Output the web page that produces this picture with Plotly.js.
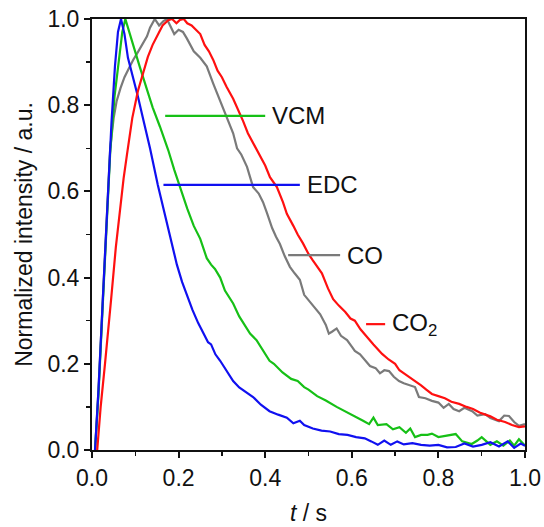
<!DOCTYPE html>
<html><head><meta charset="utf-8">
<script src="https://cdn.plot.ly/plotly-3.0.1.min.js"></script>
<style>html,body{margin:0;padding:0;background:#fff;}#chart{width:544px;height:527px;}</style>
</head><body><div id="chart"></div>
<script>
// EDC (blue)
const edcT = [0.007,0.015,0.025,0.035,0.045,0.053,0.060,0.067,0.075,0.083,0.095,0.106,0.12,0.134,0.152,0.165,0.175,0.186,0.196,0.208,0.219,0.232,0.245,0.257,0.268,0.275,0.285,0.296,0.31,0.326,0.34,0.355,0.372,0.39,0.41,0.43,0.45,0.465,0.48,0.49,0.51,0.53,0.55,0.57,0.59,0.61,0.63,0.645,0.66,0.675,0.69,0.705,0.72,0.74,0.76,0.78,0.80,0.82,0.84,0.86,0.88,0.90,0.92,0.94,0.96,0.975,0.99,1.0];
const edcV = [0,0.14,0.35,0.57,0.76,0.89,0.97,1.0,0.965,0.91,0.865,0.82,0.76,0.70,0.615,0.56,0.515,0.47,0.43,0.39,0.36,0.325,0.295,0.27,0.25,0.245,0.222,0.207,0.185,0.16,0.145,0.135,0.123,0.105,0.09,0.082,0.075,0.062,0.068,0.058,0.05,0.045,0.043,0.037,0.035,0.03,0.027,0.02,0.012,0.022,0.012,0.02,0.013,0.016,0.012,0.01,0.012,0.006,0.007,0.015,0.008,0.012,0.018,0.008,0.02,0.005,0.015,0.01];
// VCM (green)
const vcmT = [0.007,0.015,0.025,0.035,0.042,0.052,0.062,0.070,0.077,0.085,0.095,0.11,0.125,0.14,0.157,0.176,0.19,0.203,0.22,0.235,0.25,0.265,0.275,0.284,0.296,0.307,0.32,0.326,0.34,0.352,0.365,0.38,0.395,0.41,0.42,0.44,0.46,0.475,0.49,0.50,0.52,0.54,0.565,0.585,0.605,0.626,0.64,0.65,0.66,0.68,0.695,0.71,0.725,0.735,0.746,0.76,0.775,0.785,0.80,0.82,0.84,0.855,0.877,0.89,0.90,0.92,0.935,0.95,0.965,0.975,0.986,1.0];
const vcmV = [0,0.13,0.34,0.55,0.69,0.82,0.90,0.97,1.0,0.975,0.94,0.89,0.84,0.795,0.75,0.696,0.65,0.61,0.56,0.52,0.49,0.445,0.43,0.42,0.40,0.37,0.35,0.34,0.31,0.29,0.27,0.255,0.23,0.207,0.20,0.18,0.165,0.16,0.146,0.14,0.125,0.115,0.10,0.09,0.08,0.068,0.06,0.075,0.058,0.06,0.048,0.053,0.04,0.05,0.03,0.035,0.035,0.038,0.03,0.033,0.037,0.02,0.014,0.022,0.03,0.012,0.02,0.01,0.022,0.01,0.025,0.01];
// CO (gray)
const coT = [0.007,0.015,0.025,0.035,0.042,0.05,0.057,0.066,0.075,0.085,0.095,0.107,0.118,0.127,0.134,0.145,0.155,0.165,0.173,0.182,0.19,0.2,0.21,0.219,0.235,0.25,0.265,0.28,0.296,0.31,0.326,0.335,0.345,0.358,0.372,0.385,0.395,0.404,0.416,0.425,0.434,0.445,0.457,0.468,0.48,0.49,0.503,0.515,0.527,0.54,0.547,0.555,0.565,0.575,0.589,0.60,0.607,0.619,0.63,0.642,0.655,0.665,0.675,0.686,0.697,0.709,0.72,0.735,0.746,0.755,0.77,0.785,0.80,0.812,0.824,0.835,0.848,0.86,0.878,0.89,0.908,0.92,0.93,0.94,0.952,0.963,0.975,0.986,1.0];
const coV = [0,0.14,0.35,0.57,0.70,0.77,0.81,0.84,0.865,0.885,0.905,0.925,0.944,0.96,0.98,1.0,0.985,0.995,1.0,0.98,0.965,0.975,0.97,0.955,0.925,0.91,0.89,0.85,0.81,0.775,0.735,0.70,0.685,0.657,0.61,0.595,0.575,0.55,0.515,0.495,0.478,0.45,0.425,0.41,0.395,0.36,0.345,0.33,0.315,0.29,0.27,0.275,0.282,0.265,0.255,0.24,0.23,0.222,0.21,0.195,0.19,0.178,0.185,0.183,0.17,0.16,0.155,0.15,0.146,0.123,0.12,0.114,0.11,0.098,0.107,0.095,0.09,0.098,0.09,0.08,0.083,0.074,0.07,0.067,0.08,0.079,0.065,0.056,0.06];
// CO2 (red)
const co2T = [0.012,0.02,0.03,0.038,0.044,0.055,0.065,0.073,0.081,0.093,0.106,0.118,0.129,0.14,0.152,0.163,0.176,0.185,0.195,0.203,0.212,0.22,0.23,0.24,0.25,0.26,0.27,0.28,0.29,0.3,0.311,0.326,0.335,0.342,0.349,0.36,0.372,0.388,0.40,0.411,0.427,0.441,0.45,0.465,0.475,0.487,0.50,0.51,0.52,0.531,0.545,0.557,0.57,0.585,0.597,0.607,0.62,0.635,0.65,0.67,0.685,0.70,0.71,0.723,0.74,0.76,0.772,0.785,0.80,0.815,0.83,0.848,0.865,0.88,0.895,0.908,0.92,0.935,0.954,0.97,0.986,1.0];
const co2V = [0,0.1,0.2,0.28,0.348,0.47,0.56,0.63,0.687,0.77,0.833,0.875,0.912,0.94,0.965,0.985,0.997,1.0,0.99,0.998,1.0,0.99,0.985,0.975,0.965,0.94,0.925,0.905,0.88,0.865,0.842,0.815,0.795,0.78,0.763,0.735,0.712,0.685,0.66,0.633,0.61,0.575,0.548,0.52,0.50,0.48,0.455,0.44,0.425,0.41,0.375,0.35,0.335,0.32,0.305,0.30,0.28,0.262,0.245,0.223,0.21,0.2,0.185,0.176,0.165,0.15,0.14,0.13,0.125,0.12,0.112,0.107,0.1,0.095,0.087,0.083,0.078,0.07,0.065,0.058,0.053,0.055];

const seriesNames = ['EDC','VCM','CO','CO<sub>2</sub>'];
const seriesColors = ['#1010f0','#16c016','#7a7a7a','#ff1010'];
// label line positions (data coords) for the in-plot labels
const labelY = [0.615, 0.775, 0.452, 0.292];
const labelX0 = [0.165, 0.169, 0.453, 0.633];
const labelX1 = [0.48, 0.40, 0.573, 0.677];

const FONT = 'Liberation Sans, Arial, sans-serif';
const xs = [edcT, vcmT, coT, co2T];
const ys = [edcV, vcmV, coV, co2V];
const order = [2, 1, 0, 3];
const traces = order.map(i => ({
  x: xs[i], y: ys[i], type: 'scatter', mode: 'lines',
  line: {color: seriesColors[i], width: 2.2}, showlegend: false, hoverinfo: 'skip'
}));

const shapes = [];
const annotations = [];
for (let i = 0; i < 4; i++) {
  shapes.push({type: 'line', xref: 'x', yref: 'y', x0: labelX0[i], x1: labelX1[i], y0: labelY[i], y1: labelY[i], line: {color: seriesColors[i], width: 2.2}});
  annotations.push({xref: 'x', yref: 'y', x: labelX1[i] + 0.011, y: labelY[i], text: seriesNames[i], showarrow: false, xanchor: 'left', yanchor: 'middle', font: {family: FONT, size: 24, color: '#111'}});
}

const axisCommon = {
  range: [0, 1.0], dtick: 0.2, tick0: 0, ticks: 'outside', ticklen: 6, tickwidth: 2, tickcolor: '#111',
  showline: true, linewidth: 2, linecolor: '#111', mirror: true, showgrid: false, zeroline: false,
  tickformat: '.1f', tickfont: {family: FONT, size: 23, color: '#111'},
  minor: {dtick: 0.1, ticks: 'outside', ticklen: 4, tickwidth: 1.5, tickcolor: '#111', showgrid: false}
};

const layout = {
  width: 544, height: 527,
  margin: {l: 92, r: 19, t: 19, b: 77},
  paper_bgcolor: '#fff', plot_bgcolor: '#fff',
  xaxis: Object.assign({}, axisCommon, {title: {text: '<i>t</i> / s', standoff: 15, font: {family: FONT, size: 23, color: '#111'}}}),
  yaxis: Object.assign({}, axisCommon, {title: {text: 'Normalized intensity / a.u.', standoff: 8, font: {family: FONT, size: 23, color: '#111'}}}),
  shapes: shapes, annotations: annotations
};
Plotly.newPlot('chart', traces, layout, {staticPlot: true, displayModeBar: false});
</script></body></html>
